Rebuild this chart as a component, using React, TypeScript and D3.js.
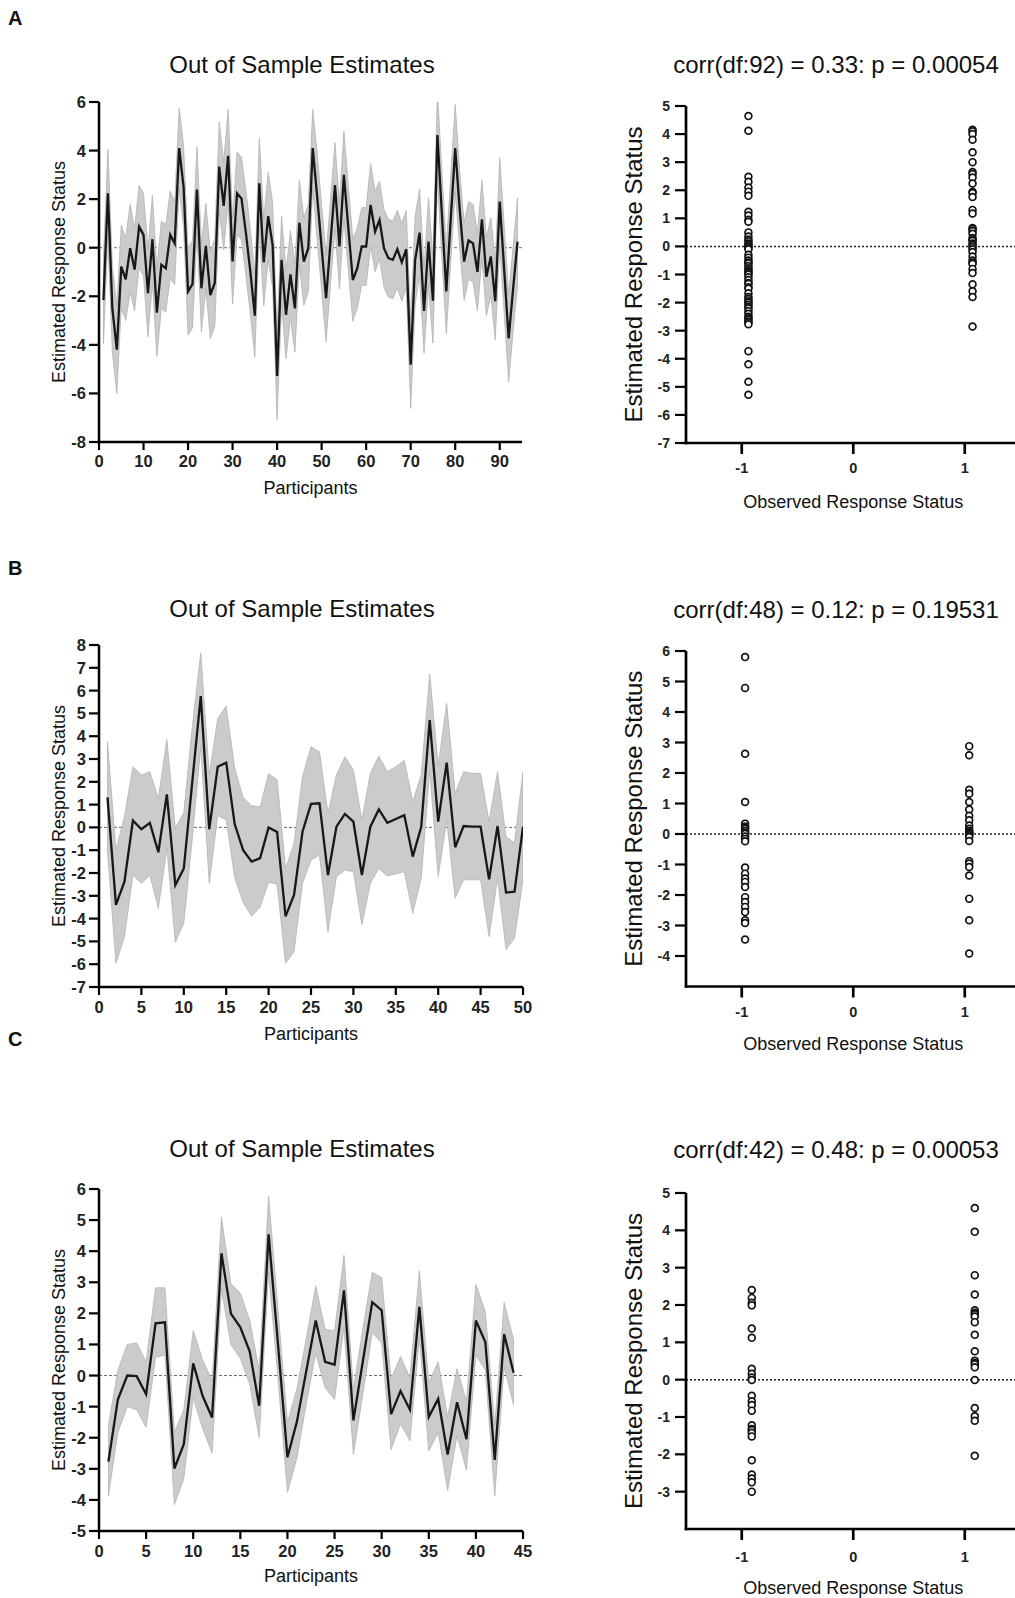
import React from "react";
import * as d3 from "d3";

const FONT = "'Liberation Sans', Arial, Helvetica, sans-serif";

// ---- panel A: 94 participants ----
const estA = [
  -2.15, 2.24, -2.5, -4.2, -0.78, -1.3, -0.02, -0.9, 0.87, 0.53,
  -1.87, 0.35, -2.67, -0.7, -0.85, 0.53, 0.18, 4.1, 2.5, -1.8,
  -1.5, 2.4, -1.67, 0.08, -1.95, -1.45, 3.34, 1.72, 3.78, -0.57,
  2.24, 2.03, 0.6, -1.0, -2.8, 2.65, -0.6, 1.3, 0.1, -5.28,
  -0.5, -2.77, -1.1, -2.5, 1.03, -0.57, -0.02, 4.1, 2.1, 0.0,
  -2.08, 0.25, 2.58, 0.05, 3.0, 0.8, -1.33, -0.85, 0.05, 0.05,
  1.76, 0.66, 1.14, -0.02, -0.43, -0.5, -0.06, -0.6, -0.06, -4.82,
  -0.5, 0.62, -2.6, 0.25, -2.18, 4.64, 1.4, -1.8, 1.2, 4.1,
  1.6, -0.57, 0.3, 0.18, -1.0, 1.17, -1.2, -0.36, -2.2, 1.9,
  -0.9, -3.73, -1.7, 0.25,
];
// half width of the grey band
const ciA = [
  1.8, 1.8, 1.8, 1.8, 1.7, 1.7, 1.8, 1.7, 1.7, 1.7,
  1.8, 1.8, 1.8, 1.8, 1.8, 1.8, 1.7, 1.65, 1.7, 1.8,
  1.8, 1.75, 1.8, 1.75, 1.8, 1.8, 1.85, 1.8, 1.9, 1.75,
  1.7, 1.7, 1.75, 1.75, 1.7, 1.85, 1.8, 1.8, 1.75, 1.8,
  1.8, 1.8, 1.8, 1.8, 1.75, 1.8, 1.8, 1.6, 1.8, 1.75,
  1.8, 1.75, 1.75, 1.75, 1.8, 1.75, 1.7, 1.65, 1.6, 1.6,
  1.7, 1.65, 1.6, 1.6, 1.6, 1.6, 1.6, 1.6, 1.6, 1.8,
  1.8, 1.8, 1.75, 1.8, 1.75, 1.8, 1.8, 1.75, 1.8, 1.8,
  1.6, 1.6, 1.6, 1.6, 1.6, 1.6, 1.6, 1.6, 1.6, 1.8,
  1.8, 1.8, 1.75, 1.8,
];
const loA = estA.map((v, i) => v - ciA[i]);
const hiA = estA.map((v, i) => v + ciA[i]);

// ---- panel B: 50 participants ----
const estB = [
  1.32, -3.4, -2.38, 0.3, -0.08, 0.2, -1.09, 1.45, -2.53, -1.8,
  2.0, 5.76, -0.08, 2.66, 2.84, 0.15, -1.0, -1.5, -1.35, 0.0,
  -0.2, -3.9, -2.96, -0.19, 1.03, 1.06, -2.09, 0.03, 0.59, 0.25,
  -2.09, 0.03, 0.79, 0.2, 0.37, 0.54, -1.28, 0.03, 4.71, 0.25,
  2.84, -0.87, 0.06, 0.03, 0.03, -2.28, 0.06, -2.86, -2.82, 0.03,
];
const hiB = [
  3.75, -0.99, 0.47, 2.66, 2.3, 2.44, 1.27, 3.86, -0.04, 0.65,
  4.4, 7.66, 2.3, 4.78, 5.32, 2.6, 1.3, 0.95, 0.9, 2.35,
  2.1, -1.8, -0.7, 2.23, 3.54, 3.32, 0.62, 2.3, 3.1, 2.52,
  0.32, 2.37, 3.13, 2.44, 2.66, 2.95, 1.13, 2.3, 6.73, 2.7,
  5.44, 1.49, 2.44, 2.37, 2.37, 0.25, 2.44, -0.41, -0.67, 2.44,
];
const loB = [
  -1.04, -5.96, -4.8, -2.1, -2.45, -2.1, -3.55, -0.89, -5.04, -4.2,
  -0.5, 3.54, -2.45, 0.52, 0.33, -2.2, -3.3, -3.9, -3.5, -2.4,
  -2.5, -5.96, -5.45, -2.45, -1.43, -1.21, -4.57, -2.16, -1.87, -1.94,
  -4.28, -2.45, -1.8, -2.13, -2.04, -1.94, -3.77, -2.23, 2.52, -2.16,
  0.33, -3.11, -2.3, -2.3, -2.3, -4.79, -2.23, -5.35, -4.87, -2.3,
];

// ---- panel C: 44 participants ----
const estC = [
  -2.77, -0.77, 0.0, -0.02, -0.6, 1.68, 1.71, -2.99, -2.21, 0.39,
  -0.66, -1.35, 3.93, 1.99, 1.55, 0.77, -0.97, 4.54, 1.0, -2.63,
  -1.49, 0.15, 1.77, 0.44, 0.35, 2.74, -1.44, 0.45, 2.36, 2.1,
  -1.24, -0.5, -1.1, 2.21, -1.33, -0.75, -2.54, -0.86, -2.05, 1.77,
  1.08, -2.71, 1.33, 0.09,
];
const hiC = [
  -1.6, 0.17, 1.0, 1.05, 0.44, 2.82, 2.82, -1.83, -1.1, 1.44,
  0.5, -0.17, 5.09, 2.95, 2.65, 1.77, 0.17, 5.77, 2.1, -1.5,
  -0.44, 1.2, 2.88, 1.49, 1.44, 3.87, -0.44, 1.5, 3.32, 3.15,
  -0.11, 0.61, -0.06, 3.37, -0.22, 0.44, -1.33, 0.22, -0.83, 2.93,
  2.05, -1.6, 2.35, 1.16,
];
const loC = [
  -3.87, -1.83, -1.0, -1.1, -1.66, 0.58, 0.66, -4.15, -3.32, -0.72,
  -1.71, -2.49, 2.77, 1.0, 0.55, -0.28, -1.99, 3.32, -0.1, -3.76,
  -2.65, -0.9, 0.72, -0.39, -0.77, 1.55, -2.54, -0.6, 1.38, 1.05,
  -2.38, -1.55, -2.1, 1.22, -2.43, -1.83, -3.7, -1.94, -3.04, 0.66,
  0.17, -3.87, 0.28, -0.94,
];

// ---- scatter: estimated status split by observed status (-1 / 1) ----
const scatANeg = [
  4.64, 4.12, 2.48, 2.3, 2.1, 1.95, 1.8, 1.23, 1.1, 0.95, 0.88, 0.5, 0.35, 0.25,
  0.18, 0.1, 0.05, 0.0, -0.05, -0.1, -0.3, -0.4, -0.5, -0.57, -0.6, -0.7, -0.78,
  -0.85, -0.9, -0.95, -1.0, -1.1, -1.2, -1.3, -1.33, -1.45, -1.5, -1.67, -1.8,
  -1.87, -1.95, -2.0, -2.08, -2.15, -2.2, -2.3, -2.4, -2.5, -2.55, -2.6, -2.67,
  -2.7, -2.77, -3.73, -4.2, -4.82, -5.28,
];
const scatAPos = [
  4.15, 4.1, 4.0, 3.8, 3.35, 3.0, 2.65, 2.58, 2.45, 2.24, 1.95, 1.9, 1.76, 1.3,
  1.17, 0.66, 0.62, 0.55, 0.45, 0.3, 0.25, 0.2, 0.1, 0.05, -0.02, -0.1, -0.2,
  -0.36, -0.5, -0.57, -0.62, -0.8, -0.95, -1.35, -1.6, -1.8, -2.85,
];
const scatBNeg = [
  5.8, 4.79, 2.63, 1.05, 0.34, 0.25, 0.2, 0.17, 0.1, 0.03, 0.01, -0.08, -0.16,
  -0.24, -1.1, -1.3, -1.46, -1.57, -1.74, -2.07, -2.23, -2.39, -2.56, -2.83,
  -2.92, -3.46,
];
const scatBPos = [
  2.88, 2.58, 1.45, 1.32, 1.05, 0.8, 0.6, 0.45, 0.28, 0.17, 0.1, 0.06, 0.03,
  0.01, -0.04, -0.1, -0.23, -0.89, -0.97, -1.08, -1.36, -2.12, -2.83, -3.92,
];
const scatCNeg = [
  2.4, 2.19, 2.06, 1.99, 1.37, 1.12, 0.29, 0.16, 0.06, -0.01, -0.43, -0.58,
  -0.68, -0.83, -1.22, -1.32, -1.35, -1.42, -1.52, -2.16, -2.54, -2.65, -2.75,
  -3.0,
];
const scatCPos = [
  4.6, 3.96, 2.8, 2.28, 1.86, 1.79, 1.75, 1.69, 1.54, 1.2, 0.76, 0.51, 0.45,
  0.41, 0.33, -0.01, -0.76, -0.98, -1.1, -2.04,
];

// ---- tick labels ----
const xTicksA = [0, 10, 20, 30, 40, 50, 60, 70, 80, 90];
const yTicksA = [-8, -6, -4, -2, 0, 2, 4, 6];
const xTicksB = [0, 5, 10, 15, 20, 25, 30, 35, 40, 45, 50];
const yTicksB = [-7, -6, -5, -4, -3, -2, -1, 0, 1, 2, 3, 4, 5, 6, 7, 8];
const xTicksC = [0, 5, 10, 15, 20, 25, 30, 35, 40, 45];
const yTicksC = [-5, -4, -3, -2, -1, 0, 1, 2, 3, 4, 5, 6];
const obsTicks = [-1, 0, 1];
const sYTicksA = [-7, -6, -5, -4, -3, -2, -1, 0, 1, 2, 3, 4, 5];
const sYTicksB = [-4, -3, -2, -1, 0, 1, 2, 3, 4, 5, 6];
const sYTicksC = [-3, -2, -1, 0, 1, 2, 3, 4, 5];

const LinePanel = ({ est, lo, hi, xDomain, xRange, yDomain, yRange, xTicks, yTicks, titleY, tickLabelY, xLabelY, id }) => {
  const x = d3.scaleLinear(xDomain, xRange);
  const y = d3.scaleLinear(yDomain, yRange);
  const rows = est.map((v, i) => ({ p: i + 1, v, lo: lo[i], hi: hi[i] }));
  const band = d3.area<any>().x((d) => x(d.p)).y0((d) => y(d.lo)).y1((d) => y(d.hi));
  const line = d3.line<any>().x((d) => x(d.p)).y((d) => y(d.v));
  const [x0, x1] = xRange;
  const [yb, yt] = yRange;
  const cy = (yb + yt) / 2;
  return (
    <g>
      <defs>
        <clipPath id={id}>
          <rect x={x0} y={yt} width={x1 - x0} height={yb - yt} />
        </clipPath>
      </defs>
      <text x={302} y={titleY} textAnchor="middle" fontSize={24}>Out of Sample Estimates</text>
      <line x1={x0} x2={x1} y1={y(0)} y2={y(0)} stroke="#6b6b6b" strokeWidth={1} strokeDasharray="3,2" />
      <g clipPath={`url(#${id})`}>
        <path d={band(rows)} fill="#cbcbcb" stroke="#b3b3b3" strokeWidth={0.8} />
        <path d={line(rows)} fill="none" stroke="#181818" strokeWidth={2.3} />
      </g>
      {/* axes */}
      <line x1={x0} x2={x0} y1={yt} y2={yb + 1.2} stroke="#000" strokeWidth={2.5} />
      <line x1={x0 - 1.2} x2={x1} y1={yb} y2={yb} stroke="#000" strokeWidth={2.5} />
      {yTicks.map((t) => (
        <g key={"y" + t}>
          <line x1={x0 - 10} x2={x0} y1={y(t)} y2={y(t)} stroke="#000" strokeWidth={2.2} />
          <text x={x0 - 13} y={y(t)} textAnchor="end" dominantBaseline="central" fontSize={16.5} fontWeight="bold" fill="#222">{t}</text>
        </g>
      ))}
      {xTicks.map((t) => (
        <g key={"x" + t}>
          <line x1={x(t)} x2={x(t)} y1={yb} y2={yb + 8} stroke="#000" strokeWidth={2.2} />
          <text x={x(t)} y={tickLabelY} textAnchor="middle" fontSize={16.5} fontWeight="bold" fill="#222">{t}</text>
        </g>
      ))}
      <text x={(x0 + x1) / 2} y={xLabelY} textAnchor="middle" fontSize={18}>Participants</text>
      <text transform={`translate(65,${cy}) rotate(-90)`} textAnchor="middle" fontSize={18}>Estimated Response Status</text>
    </g>
  );
};

const ScatterPanel = ({ neg, pos, negX, posX, title, yDomain, yRange, yTicks, titleY, tickLabelY, xLabelY }) => {
  const x = d3.scaleLinear([-1.5, 1.5], [686, 1020.5]);
  const y = d3.scaleLinear(yDomain, yRange);
  const [yb, yt] = yRange;
  const x0 = x(-1.5);
  return (
    <g>
      <text x={836} y={titleY} textAnchor="middle" fontSize={24}>{title}</text>
      <line x1={x0} x2={1015} y1={y(0)} y2={y(0)} stroke="#222" strokeWidth={1.5} strokeDasharray="2,2" />
      <line x1={x0} x2={x0} y1={yt} y2={yb + 1.2} stroke="#000" strokeWidth={2.7} />
      <line x1={x0 - 1.2} x2={1015} y1={yb} y2={yb} stroke="#000" strokeWidth={2.7} />
      {yTicks.map((t) => (
        <g key={"y" + t}>
          <line x1={x0 - 11} x2={x0} y1={y(t)} y2={y(t)} stroke="#000" strokeWidth={2.2} />
          <text x={x0 - 16} y={y(t)} textAnchor="end" dominantBaseline="central" fontSize={14} fontWeight="bold" fill="#222">{t}</text>
        </g>
      ))}
      {obsTicks.map((t) => (
        <g key={"x" + t}>
          <line x1={x(t)} x2={x(t)} y1={yb} y2={yb + 11} stroke="#000" strokeWidth={2.7} />
          <text x={x(t)} y={tickLabelY} textAnchor="middle" fontSize={14.5} fontWeight="bold" fill="#222">{t}</text>
        </g>
      ))}
      {neg.map((v, i) => (
        <circle key={"n" + i} cx={x(negX)} cy={y(v)} r={3.4} fill="#fff" stroke="#111" strokeWidth={1.7} />
      ))}
      {pos.map((v, i) => (
        <circle key={"p" + i} cx={x(posX)} cy={y(v)} r={3.4} fill="#fff" stroke="#111" strokeWidth={1.7} />
      ))}
      <text x={x(0)} y={xLabelY} textAnchor="middle" fontSize={18}>Observed Response Status</text>
      <text transform={`translate(642,${(yb + yt) / 2}) rotate(-90)`} textAnchor="middle" fontSize={24}>Estimated Response Status</text>
    </g>
  );
};

const App = () => {
  return (
    <div style={{ position: "absolute", left: 0, top: 0 }}>
      <svg width={1015} height={1598} style={{ display: "block", background: "#fff" }} fontFamily={FONT} fill="#111">
        <rect width={1015} height={1598} fill="#fff" />
        <text x={8} y={25} fontSize={20} fontWeight="bold">A</text>
        <text x={8} y={575} fontSize={20} fontWeight="bold">B</text>
        <text x={8} y={1046} fontSize={20} fontWeight="bold">C</text>

        <LinePanel id="clipA" est={estA} lo={loA} hi={hiA} xDomain={[0, 95]} xRange={[99, 522]}
          yDomain={[-8, 6]} yRange={[442, 102]} xTicks={xTicksA} yTicks={yTicksA}
          titleY={73} tickLabelY={467} xLabelY={494} />
        <ScatterPanel neg={scatANeg} pos={scatAPos} negX={-0.94} posX={1.07}
          title="corr(df:92) = 0.33: p = 0.00054" yDomain={[-7, 5]} yRange={[443, 106]}
          yTicks={sYTicksA} titleY={73} tickLabelY={473} xLabelY={508} />

        <LinePanel id="clipB" est={estB} lo={loB} hi={hiB} xDomain={[0, 50]} xRange={[99, 523]}
          yDomain={[-7, 8]} yRange={[987, 645]} xTicks={xTicksB} yTicks={yTicksB}
          titleY={617} tickLabelY={1013} xLabelY={1040} />
        <ScatterPanel neg={scatBNeg} pos={scatBPos} negX={-0.97} posX={1.04}
          title="corr(df:48) = 0.12: p = 0.19531" yDomain={[-5, 6]} yRange={[986.5, 651]}
          yTicks={sYTicksB} titleY={618} tickLabelY={1017} xLabelY={1050} />

        <LinePanel id="clipC" est={estC} lo={loC} hi={hiC} xDomain={[0, 45]} xRange={[99, 523]}
          yDomain={[-5, 6]} yRange={[1531, 1189]} xTicks={xTicksC} yTicks={yTicksC}
          titleY={1157} tickLabelY={1557} xLabelY={1582} />
        <ScatterPanel neg={scatCNeg} pos={scatCPos} negX={-0.91} posX={1.09}
          title="corr(df:42) = 0.48: p = 0.00053" yDomain={[-4, 5]} yRange={[1529, 1193]}
          yTicks={sYTicksC} titleY={1158} tickLabelY={1562} xLabelY={1594} />
      </svg>
    </div>
  );
};

export default App;
